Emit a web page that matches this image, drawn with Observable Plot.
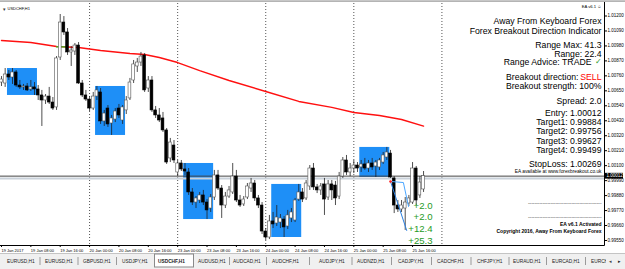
<!DOCTYPE html>
<html><head><meta charset="utf-8">
<script src="https://cdn.jsdelivr.net/npm/d3@7"></script>
<script src="https://cdn.jsdelivr.net/npm/@observablehq/plot@0.6"></script>
<style>
body{margin:0;background:#fff;width:625px;height:269px;overflow:hidden}
</style></head><body>
<div id="chart"></div>
<script>
// ---- Data (USDCHF, H1, hourly candles from 19 Jan 2017) ----
const opens = [1.00700,1.00693,1.00759,1.00737,1.00774,1.00678,1.00664,1.00671,1.00649,1.00664,
1.00649,1.00605,1.00568,1.00597,1.00553,1.00517,1.00884,1.01141,1.01068,1.00921,
1.00928,1.00972,1.00693,1.00605,1.00575,1.00509,1.00597,1.00627,1.00414,1.00509,
1.00399,1.00428,1.00509,1.00421,1.00495,1.00583,1.00715,1.00818,1.00847,1.00899,
1.00656,1.00715,1.00495,1.00458,1.00436,1.00348,1.00142,1.00237,1.00039,1.00105,
1.00061,1.00039,0.99892,0.99818,0.99833,0.99870,0.99818,0.99774,0.99855,1.00017,
0.99921,0.99796,0.99862,0.99892,1.00009,0.99833,0.99804,0.99855,0.99921,0.99958,
0.99848,0.99796,0.99605,0.99561,0.99679,0.99664,0.99671,0.99693,0.99642,0.99701,
0.99686,0.99840,0.99892,0.99848,0.99936,1.00068,0.99929,0.99907,0.99951,0.99855,
0.99951,0.99943,0.99862,1.00009,1.00127,1.00039,1.00068,1.00090,1.00076,1.00098,
1.00068,1.00105,1.00083,1.00076,1.00112,1.00149,1.00178,0.99995,0.99796,0.99767,
0.99774,0.99811,0.99818,1.00068,0.99870,0.99914];
const highs = [1.00744,1.00803,1.00788,1.00803,1.00788,1.00715,1.00686,1.00693,1.00715,1.00700,
1.00678,1.00642,1.00612,1.00664,1.00590,1.00891,1.01200,1.01185,1.01097,1.00965,
1.00987,1.00994,1.00715,1.00642,1.00597,1.00627,1.00671,1.00656,1.00495,1.00531,
1.00458,1.00509,1.00539,1.00531,1.00597,1.00730,1.00862,1.00877,1.00921,1.00913,
1.00744,1.00744,1.00524,1.00509,1.00480,1.00362,1.00289,1.00274,1.00127,1.00127,
1.00105,1.00068,0.99921,0.99862,0.99892,0.99907,0.99840,0.99877,1.00054,1.00054,
0.99943,0.99892,0.99936,1.00105,1.00054,0.99870,0.99862,0.99958,0.99995,0.99980,
0.99870,0.99818,0.99627,0.99723,0.99745,0.99796,0.99730,0.99715,0.99760,0.99774,
0.99848,0.99951,0.99921,0.99980,1.00090,1.00105,0.99951,0.99958,0.99995,0.99980,
0.99980,0.99973,1.00039,1.00149,1.00164,1.00105,1.00127,1.00112,1.00127,1.00142,
1.00127,1.00142,1.00127,1.00142,1.00186,1.00223,1.00201,1.00009,0.99833,0.99833,
0.99855,0.99870,1.00112,1.00083,1.00009,1.00046];
const lows = [1.00671,1.00664,1.00715,1.00686,1.00664,1.00649,1.00642,1.00634,1.00634,1.00605,
1.00568,1.00377,1.00539,1.00539,1.00495,1.00495,1.00862,1.01046,1.00899,1.00818,
1.00899,1.00686,1.00590,1.00561,1.00487,1.00495,1.00568,1.00392,1.00377,1.00370,
1.00311,1.00406,1.00436,1.00392,1.00465,1.00568,1.00693,1.00774,1.00818,1.00627,
1.00627,1.00480,1.00436,1.00406,1.00333,1.00098,1.00112,1.00105,1.00009,1.00046,
1.00017,0.99870,0.99796,0.99774,0.99811,0.99796,0.99693,0.99745,0.99833,0.99907,
0.99701,0.99774,0.99848,0.99877,0.99818,0.99782,0.99789,0.99840,0.99892,0.99826,
0.99774,0.99583,0.99539,0.99546,0.99627,0.99642,0.99627,0.99561,0.99620,0.99671,
0.99671,0.99826,0.99818,0.99833,0.99907,0.99907,0.99884,0.99870,0.99723,0.99833,
0.99833,0.99796,0.99840,0.99995,1.00017,1.00009,1.00031,1.00039,1.00039,1.00054,
1.00039,1.00054,1.00002,1.00054,1.00098,1.00127,0.99995,0.99737,0.99745,0.99745,
0.99613,0.99789,0.99804,0.99796,0.99848,0.99892];
const closes = [1.00722,1.00759,1.00737,1.00774,1.00678,1.00664,1.00671,1.00642,1.00664,1.00649,
1.00605,1.00568,1.00597,1.00553,1.00509,1.00877,1.01141,1.01068,1.00921,1.00935,
1.00972,1.00693,1.00605,1.00575,1.00509,1.00597,1.00642,1.00414,1.00472,1.00392,
1.00436,1.00487,1.00458,1.00517,1.00568,1.00700,1.00833,1.00847,1.00891,1.00642,
1.00715,1.00495,1.00458,1.00421,1.00348,1.00112,1.00259,1.00127,1.00105,1.00061,
1.00046,0.99892,0.99818,0.99848,0.99870,0.99818,0.99760,0.99855,1.00017,0.99921,
0.99796,0.99862,0.99907,1.00009,0.99833,0.99796,0.99840,0.99936,0.99958,0.99848,
0.99796,0.99605,0.99561,0.99679,0.99657,0.99708,0.99701,0.99635,0.99723,0.99745,
0.99833,0.99892,0.99840,0.99958,1.00068,0.99929,0.99907,0.99936,0.99840,0.99951,
0.99907,0.99848,1.00009,1.00127,1.00039,1.00068,1.00090,1.00068,1.00098,1.00068,
1.00105,1.00076,1.00112,1.00127,1.00164,1.00186,1.00002,0.99796,0.99767,0.99796,
0.99818,0.99848,1.00068,0.99833,0.99965,1.00012];

// moving average (read at selected bars)
const maBar   = [0, 8, 15, 21, 27, 35, 39, 43, 48, 54, 62, 72, 81, 90, 96, 103, 109, 115];
const maPrice = [1.01009,1.00994,1.00965,1.00958,1.00935,1.00913,1.00906,1.00884,1.00847,1.00788,
                 1.00715,1.00634,1.00561,1.00517,1.00480,1.00458,1.00428,1.00380];
const greenSeg = {from: 15, to: 18, price: 1.00962};

// daily 02:00-10:00 ranges
const rangeStart = [2, 26, 50, 74, 98];
const rangeEnd   = [10, 34, 58, 82, 106];
const rangeHigh  = [1.00803, 1.00671, 1.00105, 0.99951, 1.00223];
const rangeLow   = [1.00605, 1.00311, 0.99693, 0.99561, 1.00002];

const dayStarts = [24, 48, 72, 96, 120];
const bid = 1.00012;
const breakLevel = 0.99995;

// trade projection lines
const tradeA = {bar: [106, 109.5, 110.9], price: [0.99973, 0.99965, 0.99789]};
const tradeB = {bar: [106, 110.4], price: [0.99973, 0.99613]};
const profitText  = ["+2.0", "+2.0", "+12.4", "+25.3"];
const profitLevel = [0.99796, 0.99715, 0.99627, 0.99539];

const xTickBars = [0, 8, 16, 24, 32, 40, 48, 56, 64, 72, 80, 88, 96, 104, 112];
const xTickLabels = ["19 Jan 2017","19 Jan 08:00","19 Jan 16:00","20 Jan 00:00","20 Jan 08:00","20 Jan 16:00",
  "23 Jan 00:00","23 Jan 08:00","23 Jan 16:00","24 Jan 00:00","24 Jan 08:00","24 Jan 16:00",
  "25 Jan 00:00","25 Jan 08:00","25 Jan 16:00"];
const yTicks = [1.01200,1.01090,1.00980,1.00870,1.00760,1.00650,1.00540,1.00430,1.00320,1.00210,
                1.00100,0.99990,0.99880,0.99770,0.99660,0.99550];

const panelLines = ["Away From Keyboard Forex","Forex Breakout Direction Indicator","Range Max: 41.3","Range: 22.4",
  "Range Advice: TRADE","Breakout direction:","Breakout strength: 100%","Spread: 2.0","Entry: 1.00012",
  "Target1: 0.99884","Target2: 0.99756","Target3: 0.99627","Target4: 0.99499","StopLoss: 1.00269"];
const tabs = ["EURUSD,H1","EURUSD,H1","GBPUSD,H1","USDJPY,H1","USDCHF,H1","AUDUSD,H1","AUDCAD,H1","AUDCHF,H1",
  "AUDJPY,H1","AUDNZD,H1","CADJPY,H1","CADCHF,H1","CHFJPY,H1","EURAUD,H1","EURCAD,H1","EURCH"];

// ---- Build ----
const candles = opens.map((o, i) => ({i, open: o, high: highs[i], low: lows[i], close: closes[i]}));
const ranges = rangeStart.map((s, k) => ({s, e: rangeEnd[k], hi: rangeHigh[k], lo: rangeLow[k]}));
const ma = maBar.map((b, k) => ({b, p: maPrice[k]}));
const tA = tradeA.bar.map((b, k) => ({b, p: tradeA.price[k]}));
const tB = tradeB.bar.map((b, k) => ({b, p: tradeB.price[k]}));
const last = opens.length - 1;
const profits = profitText.map((t, k) => ({t, p: profitLevel[k]}));
const tickMap = new Map(xTickBars.map((b, k) => [b, xTickLabels[k]]));

const FONT = "'Liberation Sans', Arial, sans-serif";
const PS = 8.7;
const panel = (txt, yc, o = {}) => Plot.text([txt], {text: d => d, frameAnchor: "top-right", textAnchor: "end",
  dx: -3, dy: yc - 3, fontSize: PS, fill: "#000", ...o});

const plot = Plot.plot({
  width: 625, height: 269,
  marginTop: 3, marginBottom: 24, marginLeft: 0, marginRight: 21,
  x: {type: "linear", domain: [-0.27, 164.3]},
  y: {domain: [0.995022, 1.012809]},
  style: {fontFamily: FONT, background: "#fff", color: "#000", overflow: "visible"},
  marks: [
    Plot.rect(ranges, {x1: d => d.s - 0.37, x2: d => d.e - 0.2, y1: "lo", y2: "hi", fill: "#1e8ff7"}),
    Plot.ruleX(dayStarts, {stroke: "#555", strokeWidth: 1, strokeDasharray: "1,2"}),
    Plot.ruleY([breakLevel], {stroke: "#c9d1da", strokeWidth: 2}),
    Plot.ruleY([bid], {stroke: "#444", strokeWidth: 1}),
    Plot.line(ma, {x: "b", y: "p", stroke: "#ff1010", strokeWidth: 1.4}),
    Plot.ruleY([greenSeg.price], {x1: greenSeg.from, x2: greenSeg.to, stroke: "#22cc22", strokeWidth: 1.2}),
    Plot.ruleX(candles, {x: "i", y1: "low", y2: "high", stroke: "#222", strokeWidth: 0.8}),
    Plot.rect(candles, {x1: d => d.i - 0.38, x2: d => d.i + 0.38, y1: "open", y2: "close",
      fill: d => d.close >= d.open ? "#fff" : "#000", stroke: d => d.close >= d.open ? "#555" : "#000", strokeWidth: 0.6}),
    Plot.line(tA, {x: "b", y: "p", stroke: "#4aa6ff", strokeWidth: 1}),
    Plot.line(tB, {x: "b", y: "p", stroke: "#2a7fe0", strokeWidth: 1}),
    Plot.dot([tA[0]], {x: "b", y: "p", r: 1.3, fill: "#ff2020", stroke: null}),
    Plot.text(profits, {x: () => last, y: "p", text: "t", textAnchor: "end", dx: 9, fontSize: 9.6, fill: "#1f9a1f"}),
    // axes
    Plot.axisX({ticks: xTickBars, tickFormat: d => tickMap.get(d), textAnchor: "start", tickSize: 2, tickPadding: 1.5,
      fontSize: 4, dx: 0}),
    Plot.axisY({anchor: "right", ticks: yTicks, tickFormat: d => d.toFixed(5), tickSize: 2, tickPadding: 1, fontSize: 4.5, dy: 1.5}),
    // chart label
    Plot.text(["▾"], {text: d => d, frameAnchor: "top-left", textAnchor: "start", dx: 2, dy: 3.5, fontSize: 5, fill: "#333"}),
    Plot.text(["USDCHF,H1"], {text: d => d, frameAnchor: "top-left", textAnchor: "start", dx: 7, dy: 3.5, fontSize: 4, fill: "#000"}),
    // info panel
    panel("EA v6.1 ☺", 5, {fontSize: 4.2}),
    panel(panelLines[0], 17.5),
    panel(panelLines[1], 27),
    panel(panelLines[2], 41),
    panel(panelLines[3], 50),
    panel(panelLines[4], 58.5, {dx: -13}),
    panel("✓", 58, {fill: "#2a9a2a", fontSize: 8}),
    panel(panelLines[5], 73, {dx: -26}),
    panel("SELL", 73, {fill: "#ff0000"}),
    panel(panelLines[6], 82),
    panel(panelLines[7], 97),
    panel(panelLines[8], 109.5),
    panel(panelLines[9], 118.5),
    panel(panelLines[10], 127.5),
    panel(panelLines[11], 137),
    panel(panelLines[12], 146),
    panel(panelLines[13], 160),
    panel("EA available at www.forexbreakout.co.uk", 169, {fontSize: 4.8}),
    panel("-".repeat(46), 201, {fontSize: 4.8, fill: "#333"}),
    panel("-".repeat(46), 215, {fontSize: 4.8, fill: "#333"}),
    panel("EA v6.1 Activated", 222, {fontSize: 5, fontWeight: "bold"}),
    panel("Copyright 2016, Away From Keyboard Forex", 229, {fontSize: 5, fontWeight: "bold"})
  ]
});
document.getElementById("chart").appendChild(plot);

// ---- window chrome ----
const svg = d3.select(plot);
const ys = plot.scale("y");
const yb = ys.apply(bid);
svg.append("rect").attr("x", 0).attr("y", 0.4).attr("width", 625).attr("height", 1.4).attr("fill", "#a2a2a2");
svg.append("line").attr("x1", 604.5).attr("x2", 604.5).attr("y1", 2).attr("y2", 245.5).attr("stroke", "#000");
svg.append("line").attr("x1", 0).attr("x2", 604.5).attr("y1", 245.5).attr("y2", 245.5).attr("stroke", "#000");
svg.append("rect").attr("x", 605).attr("y", yb - 2.8).attr("width", 18).attr("height", 5.8).attr("fill", "#000");
svg.append("text").attr("x", 606.5).attr("y", yb + 1.6).attr("font-size", 4.5).attr("font-family", FONT)
  .attr("text-anchor", "start").attr("fill", "#fff").text(bid.toFixed(5));

const tg = svg.append("g").attr("font-family", FONT).attr("text-anchor", "start");
tg.append("rect").attr("x", 0).attr("y", 253).attr("width", 625).attr("height", 16).attr("fill", "#f0f0f0");
tg.append("line").attr("x1", 0).attr("x2", 625).attr("y1", 253.5).attr("y2", 253.5).attr("stroke", "#c4c4c4");
const tabX = [7, 45, 83, 122, 158, 198, 233, 272, 319, 357, 398, 437, 477, 513, 552, 591];
tg.append("rect").attr("x", 154.5).attr("y", 254).attr("width", 39).attr("height", 13).attr("fill", "#fff").attr("stroke", "#8a8a8a");
tabs.forEach((t, k) => {
  tg.append("text").attr("x", tabX[k]).attr("y", 262.8).attr("font-size", 4.8).attr("fill", "#222")
    .attr("font-weight", k === 4 ? "bold" : "normal").text(t);
  if (k > 0 && k !== 4 && k !== 5) {
    const sx = (tabX[k] + tabX[k - 1] + 28) / 2;
    tg.append("line").attr("x1", sx).attr("x2", sx).attr("y1", 257).attr("y2", 265).attr("stroke", "#9a9a9a");
  }
});
tg.append("rect").attr("x", 606).attr("y", 254).attr("width", 19).attr("height", 15).attr("fill", "#f0f0f0");
tg.append("text").attr("x", 609).attr("y", 263).attr("font-size", 5).attr("fill", "#444").text("◂");
tg.append("text").attr("x", 618).attr("y", 263).attr("font-size", 5).attr("fill", "#222").text("▸");
</script></body></html>
